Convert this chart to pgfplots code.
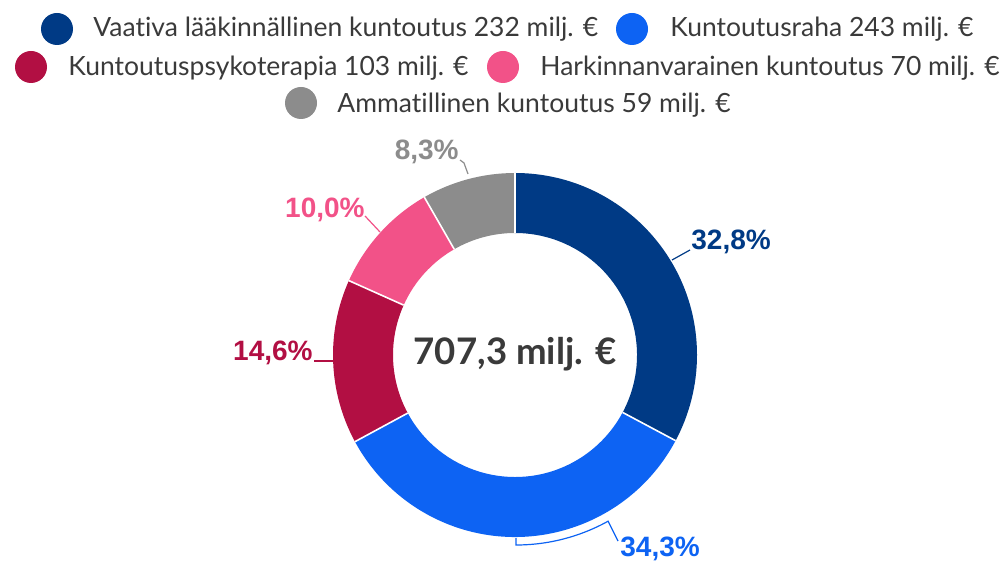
\documentclass[border=0pt]{standalone}
\usepackage{fontspec}
\setmainfont{Lato}[Ligatures=NoCommon]
\newfontfamily\labelfont{Liberation Sans}
\usepackage{pgfplots}
\usepackage{pgfplotstable}
\pgfplotsset{compat=1.18}

\definecolor{cNavy}{HTML}{003A85}
\definecolor{cBlue}{HTML}{0D63F3}
\definecolor{cCrimson}{HTML}{B20F43}
\definecolor{cPink}{HTML}{F25288}
\definecolor{cGray}{HTML}{8C8C8C}
\definecolor{cText}{HTML}{3A3A3A}

% share of each slice in percent, clockwise from the top
\pgfplotstableread{
name share
Vaativa 32.8
Raha 34.3
Psyko 14.6
Harkinta 10.0
Ammatti 8.3
}\sharetable

\pgfplotstablegetelem{0}{share}\of\sharetable \let\sA\pgfplotsretval
\pgfplotstablegetelem{1}{share}\of\sharetable \let\sB\pgfplotsretval
\pgfplotstablegetelem{2}{share}\of\sharetable \let\sC\pgfplotsretval
\pgfplotstablegetelem{3}{share}\of\sharetable \let\sD\pgfplotsretval
\pgfplotstablegetelem{4}{share}\of\sharetable \let\sE\pgfplotsretval
\pgfmathsetmacro\aA{90}
\pgfmathsetmacro\aB{\aA-3.6*\sA}
\pgfmathsetmacro\aC{\aB-3.6*\sB}
\pgfmathsetmacro\aD{\aC-3.6*\sC}
\pgfmathsetmacro\aE{\aD-3.6*\sD}
\pgfmathsetmacro\aF{\aE-3.6*\sE}

\def\cx{515}\def\cy{-355}\def\Ro{182}\def\Ri{122}
\newcommand\slice[3]{%
  \fill[#1] (axis cs:{\cx+\Ro*cos(#2)},{\cy+\Ro*sin(#2)})
    arc[start angle=#2, end angle=#3, radius=\Ro]
    -- (axis cs:{\cx+\Ri*cos(#3)},{\cy+\Ri*sin(#3)})
    arc[start angle=#3, end angle=#2, radius=\Ri] -- cycle;}
\newcommand\gap[1]{%
  \draw[white, line width=0.8pt] (axis cs:{\cx+\Ri*cos(#1)},{\cy+\Ri*sin(#1)})
    -- (axis cs:{\cx+\Ro*cos(#1)},{\cy+\Ro*sin(#1)});}
\def\legfont{\fontsize{13.25}{15}\selectfont}

\begin{document}
\begin{tikzpicture}
\begin{axis}[
    width=503pt, height=280.5pt, scale only axis,
    xmin=0, xmax=1006, ymin=-561, ymax=0,
    hide axis, clip=false,
]
\path (axis cs:0,0) rectangle (axis cs:1006,-561);
\slice{cNavy}{\aA}{\aB}
\slice{cBlue}{\aB}{\aC}
\slice{cCrimson}{\aC}{\aD}
\slice{cPink}{\aD}{\aE}
\slice{cGray}{\aE}{\aF}
\gap{\aA}\gap{\aB}\gap{\aC}\gap{\aD}\gap{\aE}

% legend
\fill[cNavy] (axis cs:57,-29) circle[radius=16];
\node[anchor=base west, text=cText, font=\legfont, inner sep=0] at (axis cs:93,-37) {Vaativa lääkinnällinen kuntoutus 232 milj. €};
\fill[cBlue] (axis cs:632,-29) circle[radius=16];
\node[anchor=base west, text=cText, font=\legfont, inner sep=0] at (axis cs:670,-37) {Kuntoutusraha 243 milj. €};
\fill[cCrimson] (axis cs:31,-67) circle[radius=16];
\node[anchor=base west, text=cText, font=\legfont, inner sep=0] at (axis cs:68,-76) {Kuntoutuspsykoterapia 103 milj. €};
\fill[cPink] (axis cs:503,-67) circle[radius=16];
\node[anchor=base west, text=cText, font=\legfont, inner sep=0] at (axis cs:540,-76) {Harkinnanvarainen kuntoutus 70 milj. €};
\fill[cGray] (axis cs:301,-103) circle[radius=16];
\node[anchor=base west, text=cText, font=\legfont, inner sep=0] at (axis cs:337,-113) {Ammatillinen kuntoutus 59 milj. €};

% centre total
\node[anchor=base, text=cText, font=\fontsize{18.3}{22}\selectfont\bfseries, inner sep=0] at (axis cs:515,-365) {707,3 milj. €};

% data labels and leader lines
\draw[cNavy, line width=0.6pt] (axis cs:672,-260) -- (axis cs:690,-250);
\node[anchor=base west, text=cNavy, font=\labelfont\fontsize{14}{16}\selectfont\bfseries, inner sep=0] at (axis cs:691,-250) {32,8\%};
\draw[cBlue, line width=0.6pt] (axis cs:516,-538) -- (axis cs:516,-545)
    arc[start angle=-90, end angle=-61, radius=190] -- (axis cs:618,-541);
\node[anchor=base west, text=cBlue, font=\labelfont\fontsize{14}{16}\selectfont\bfseries, inner sep=0] at (axis cs:620,-557) {34,3\%};
\draw[cCrimson, line width=0.6pt] (axis cs:333,-361) -- (axis cs:314,-361);
\node[anchor=base east, text=cCrimson, font=\labelfont\fontsize{14}{16}\selectfont\bfseries, inner sep=0] at (axis cs:313,-361) {14,6\%};
\draw[cPink, line width=0.6pt] (axis cs:380,-232) -- (axis cs:365,-216);
\node[anchor=base east, text=cPink, font=\labelfont\fontsize{14}{16}\selectfont\bfseries, inner sep=0] at (axis cs:365,-218) {10,0\%};
\draw[cGray, line width=0.6pt] (axis cs:468,-174) -- (axis cs:464,-163) -- (axis cs:460,-160);
\node[anchor=base east, text=cGray, font=\labelfont\fontsize{14}{16}\selectfont\bfseries, inner sep=0] at (axis cs:459,-160) {8,3\%};
\end{axis}
\end{tikzpicture}
\end{document}
